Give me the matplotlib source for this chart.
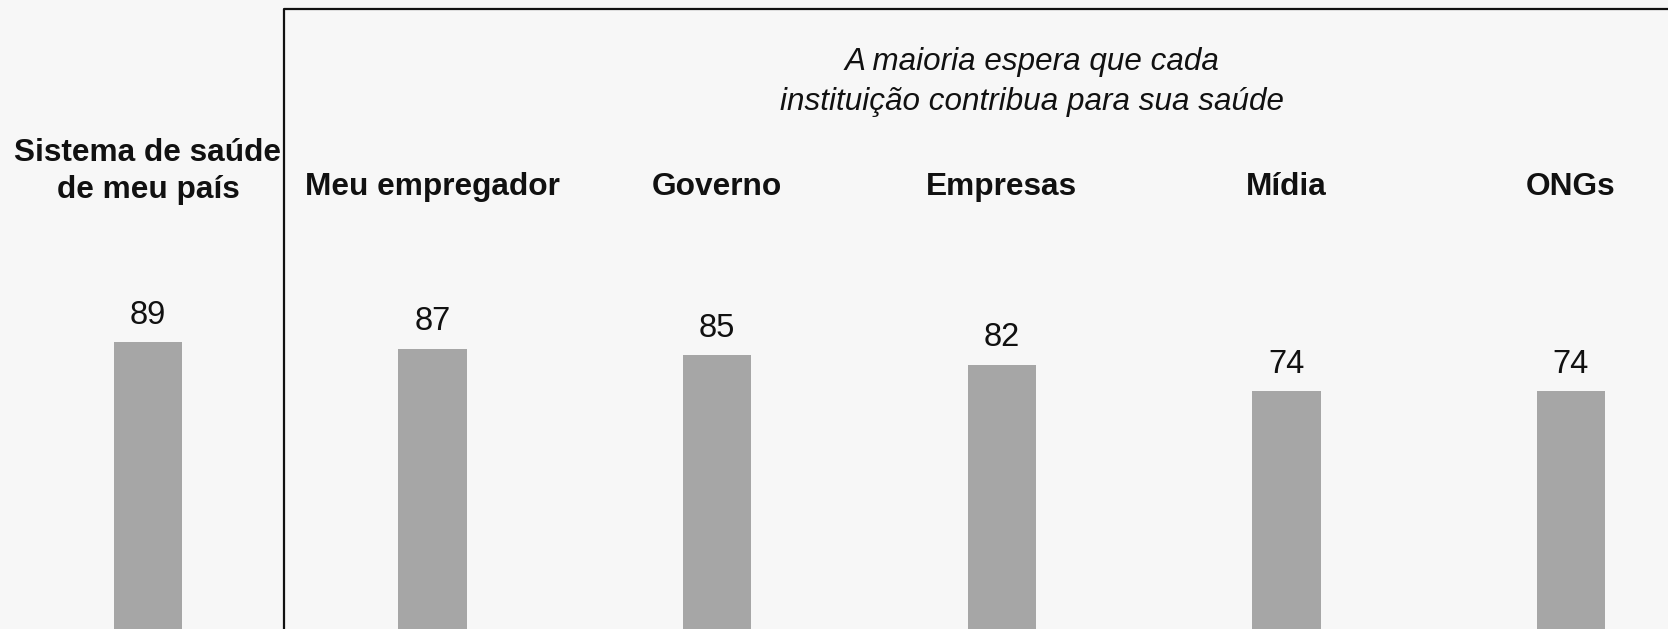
import matplotlib.pyplot as plt

plt.rcParams['font.family'] = ['Liberation Sans', 'DejaVu Sans']

categories = ["Sistema de saúde\nde meu país", "Meu empregador", "Governo",
              "Empresas", "Mídia", "ONGs"]
values = [89, 87, 85, 82, 74, 74]
subtitle = "A maioria espera que cada\ninstituição contribua para sua saúde"

bg = "#f7f7f7"
fig = plt.figure(figsize=(16.68, 6.29), dpi=100, facecolor=bg)
ax = fig.add_axes([0, 0, 1, 1])
ax.set_facecolor(bg)

x = list(range(len(values)))
bars = ax.bar(x, values, width=0.24, color="#a6a6a6")

ax.set_xlim(-0.52, 5.341)
ax.set_ylim(1.0, 194.0)
ax.axis("off")

# value labels above bars
for b, v in zip(bars, values):
    ax.annotate(str(v), (b.get_x() + b.get_width() / 2, b.get_height()),
                xytext=(0, 19.5), textcoords="offset points",
                ha="center", va="center", fontsize=23.5, color="#111111")

# category headers
for i, c in enumerate(categories):
    yy = 141.4 if "\n" in c else 136.7
    ax.text(i, yy, c, ha="center", va="center", fontsize=22.8,
            fontweight="bold", color="#111111", linespacing=1.28)

# box around the "others" group
ax.plot([0.478, 0.478, 6], [-5, 191.3, 191.3], color="#111111", lw=1.6,
        clip_on=False, solid_capstyle="butt")

ax.text(3.106, 168.8, subtitle, ha="center", va="center", fontsize=22.6,
        style="italic", color="#111111", linespacing=1.44)

fig.savefig("out.png", dpi=100, facecolor=bg)
